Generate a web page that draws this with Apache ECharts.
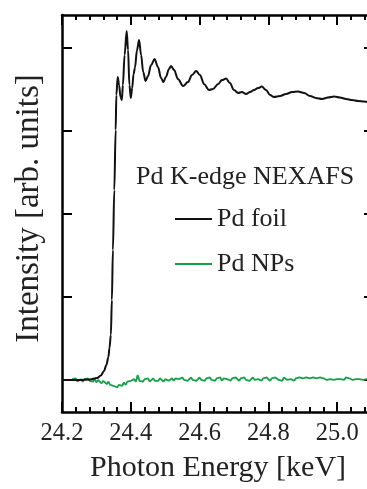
<!DOCTYPE html>
<html>
<head>
<meta charset="utf-8">
<script src="https://cdn.jsdelivr.net/npm/echarts@6/dist/echarts.min.js"></script>
<style>
html,body{margin:0;padding:0;background:#fff;}
#chart{width:367px;height:489px;}
</style>
</head>
<body>
<div id="chart"></div>
<script>
// Pd foil NEXAFS (photon energy in keV, intensity in arb. units)
const energyFoil = [24.200,24.252,24.281,24.302,24.313,24.322,24.329,24.335,24.338,24.342,
  24.345,24.348,24.352,24.356,24.358,24.362,24.366,24.370,24.374,24.377,
  24.382,24.388,24.392,24.396,24.400,24.404,24.408,24.412,24.418,24.424,
  24.430,24.436,24.443,24.450,24.459,24.469,24.479,24.488,24.495,24.502,
  24.511,24.517,24.526,24.537,24.552,24.566,24.578,24.590,24.601,24.613,
  24.627,24.639,24.654,24.665,24.677,24.688,24.700,24.712,24.723,24.735,
  24.747,24.758,24.770,24.781,24.793,24.805,24.816,24.834,24.851,24.869,
  24.886,24.904,24.921,24.938,24.956,24.973,24.991,25.008,25.026,25.043,
  25.061,25.078,25.090,25.107];
const intensityFoil = [0,0,0.006,0.024,0.054,0.108,0.181,0.277,0.386,0.542,
  0.964,1.566,2.289,3.012,3.434,3.651,3.554,3.41,3.373,3.554,
  3.916,4.205,3.976,3.554,3.398,3.518,3.687,3.759,3.976,4.096,
  3.916,3.711,3.602,3.663,3.795,3.867,3.771,3.639,3.590,3.651,
  3.747,3.783,3.735,3.627,3.542,3.590,3.675,3.723,3.675,3.566,
  3.494,3.506,3.566,3.614,3.633,3.578,3.494,3.458,3.470,3.446,
  3.470,3.494,3.518,3.536,3.494,3.434,3.410,3.422,3.446,3.470,
  3.476,3.458,3.422,3.398,3.386,3.404,3.416,3.404,3.386,3.373,
  3.361,3.355,3.349,3.345];

// Pd NPs (noisy, flat)
const energyNPs = [
  24.230,24.235,24.240,24.245,24.250,24.255,24.260,24.265,24.270,24.275,
  24.280,24.285,24.290,24.295,24.300,24.305,24.310,24.315,24.320,24.325,
  24.330,24.335,24.340,24.345,24.350,24.355,24.360,24.365,24.370,24.375,
  24.380,24.385,24.390,24.395,24.400,24.405,24.410,24.415,24.420,24.425,
  24.430,24.435,24.440,24.445,24.450,24.455,24.460,24.465,24.470,24.475,
  24.480,24.485,24.490,24.495,24.500,24.505,24.510,24.515,24.520,24.525,
  24.530,24.535,24.540,24.545,24.550,24.555,24.560,24.565,24.570,24.575,
  24.580,24.585,24.590,24.595,24.600,24.605,24.610,24.615,24.620,24.625,
  24.630,24.635,24.640,24.645,24.650,24.655,24.660,24.665,24.670,24.675,
  24.680,24.685,24.690,24.695,24.700,24.705,24.710,24.715,24.720,24.725,
  24.730,24.735,24.740,24.745,24.750,24.755,24.760,24.765,24.770,24.775,
  24.780,24.785,24.790,24.795,24.800,24.805,24.810,24.815,24.820,24.825,
  24.830,24.835,24.840,24.845,24.850,24.855,24.860,24.865,24.870,24.875,
  24.880,24.885,24.890,24.895,24.900,24.905,24.910,24.915,24.920,24.925,
  24.930,24.935,24.940,24.945,24.950,24.955,24.960,24.965,24.970,24.975,
  24.980,24.985,24.990,24.995,25.000,25.005,25.010,25.015,25.020,25.025,
  25.030,25.035,25.040,25.045,25.050,25.055,25.060,25.065,25.070,25.075,
  25.080,25.085,25.090,25.095,25.100];
const intensityNPs = [
  0.01,-0.01,0.02,-0.02,0.00,0.01,-0.02,0.01,-0.01,0.02,
  -0.01,0.00,-0.02,0.01,-0.03,0.00,-0.02,-0.04,-0.01,-0.03,
  -0.05,-0.02,-0.06,-0.04,-0.07,-0.05,-0.09,-0.06,-0.04,-0.07,
  -0.03,-0.06,-0.02,-0.04,-0.01,-0.03,0.01,-0.02,0.06,-0.01,
  0.01,-0.02,0.01,-0.01,0.02,-0.02,0.00,0.02,-0.01,0.01,
  -0.01,0.02,0.00,-0.02,0.01,0.03,-0.01,0.01,0.02,-0.01,
  0.02,0.00,0.01,-0.01,0.03,0.00,0.02,-0.01,0.01,0.03,
  0.00,0.02,-0.01,0.01,0.03,0.00,0.02,-0.01,0.02,0.00,
  0.03,0.00,0.01,-0.01,0.02,0.01,0.03,-0.01,0.02,0.00,
  0.01,0.03,-0.01,0.02,0.00,0.03,0.01,-0.01,0.02,0.01,
  0.03,0.00,0.02,-0.01,0.01,0.03,0.00,0.02,0.01,0.03,
  -0.01,0.02,0.00,0.03,0.01,-0.01,0.02,0.00,0.03,0.01,
  0.00,0.02,-0.01,0.03,0.01,0.00,0.02,0.01,0.03,-0.01,
  0.02,0.00,0.03,0.01,0.02,0.00,0.03,0.01,0.02,0.00,
  0.03,0.01,0.02,0.00,0.03,0.01,0.02,0.04,0.00,0.02,
  0.01,0.03,0.00,0.02,0.01,0.03,0.01,0.02,0.00,0.03,
  0.01,0.02,0.04,0.00,0.02,0.01,0.03,0.01,0.02,0.00,
  0.02,0.01,0.03,0.01,0.02];

const yTickValues = [0, 1, 2, 3, 4];
const seriesNames = ['Pd foil', 'Pd NPs'];
const seriesColors = ['#111111', '#16a04a'];
const titleText = 'Pd K-edge NEXAFS';
const xAxisTitle = 'Photon Energy [keV]';
const yAxisTitle = 'Intensity [arb. units]';

const FONT = 'Liberation Serif';
const zip = (a, b) => a.map((v, i) => [v, b[i]]);

const chart = echarts.init(document.getElementById('chart'), null, {renderer: 'canvas'});

const axisLine = {show: true, onZero: false, lineStyle: {color: '#000', width: 2.5}};
const xCommon = {
  type: 'value', min: 24.2, max: 25.107, interval: 0.2, splitNumber: 5,
  axisLine: axisLine,
  splitLine: {show: false},
  axisTick: {show: true, inside: true, length: 10, lineStyle: {color: '#000', width: 2}},
  minorTick: {show: true, splitNumber: 5, length: 5, lineStyle: {color: '#000', width: 2}}
};
const yCommon = {
  type: 'value', min: -0.386, max: 4.398,
  axisLine: axisLine,
  splitLine: {show: false},
  axisTick: {show: true, inside: true, length: 10, customValues: yTickValues, lineStyle: {color: '#000', width: 2}},
  axisLabel: {show: false}
};

chart.setOption({
  animation: false,
  backgroundColor: '#fff',
  title: {
    text: titleText, left: 136, top: 164, padding: 0,
    textStyle: {fontFamily: FONT, fontSize: 26, fontWeight: 'normal', color: '#222'}
  },
  legend: {
    orient: 'vertical', left: 175, top: 206, padding: 0, itemGap: 19,
    icon: 'rect', itemWidth: 37, itemHeight: 2,
    textStyle: {fontFamily: FONT, fontSize: 26, color: '#222', padding: [0,0,0,0]},
    data: seriesNames
  },
  grid: {left: 62, right: -7, top: 15, bottom: 77, containLabel: false, outerBoundsMode: 'none'},
  xAxis: [
    Object.assign({}, xCommon, {
      position: 'bottom',
      name: xAxisTitle, nameLocation: 'middle', nameGap: 41,
      nameTextStyle: {fontFamily: FONT, fontSize: 30, color: '#222'},
      axisLabel: {show: true, margin: 9, fontFamily: FONT, fontSize: 24.5, color: '#222',
        showMaxLabel: false,
        formatter: v => v.toFixed(1)}
    }),
    Object.assign({}, xCommon, {position: 'top', axisLabel: {show: false}})
  ],
  yAxis: [
    Object.assign({}, yCommon, {
      position: 'left',
      name: yAxisTitle, nameLocation: 'middle', nameGap: 16, nameRotate: 90,
      nameTextStyle: {fontFamily: FONT, fontSize: 33, color: '#222', padding: [0,0,0,10]}
    }),
    Object.assign({}, yCommon, {position: 'right'})
  ],
  series: [
    {
      name: seriesNames[1], type: 'line', data: zip(energyNPs, intensityNPs),
      showSymbol: false, symbol: 'none', color: seriesColors[1],
      lineStyle: {color: seriesColors[1], width: 1.8}, z: 2
    },
    {
      name: seriesNames[0], type: 'line', data: zip(energyFoil, intensityFoil),
      showSymbol: false, symbol: 'none', color: seriesColors[0],
      smooth: 0.35, smoothMonotone: 'x',
      lineStyle: {color: seriesColors[0], width: 2}, z: 3
    }
  ]
});
</script>
</body>
</html>
